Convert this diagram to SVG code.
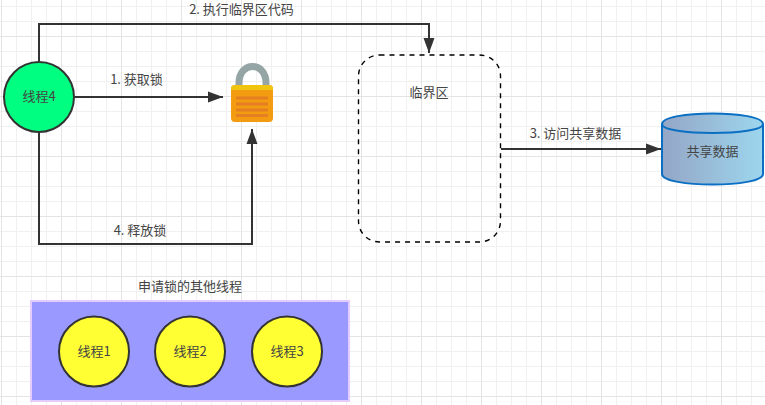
<svg xmlns="http://www.w3.org/2000/svg" width="765" height="405" viewBox="0 0 765 405">
<defs>
<pattern id="gridMinor" width="15" height="15" patternUnits="userSpaceOnUse" x="1" y="6"><path d="M0.5 0V15M0 0.5H15" fill="none" stroke="#f0f0f0" stroke-width="1"/></pattern>
<pattern id="gridMajor" width="60" height="60" patternUnits="userSpaceOnUse" x="1" y="36"><path d="M0.5 0V60M0 0.5H60" fill="none" stroke="#e4e4e4" stroke-width="1"/></pattern>
<linearGradient id="cyl" x1="0" y1="0" x2="1" y2="0"><stop offset="0" stop-color="#94a6c6"/><stop offset="1" stop-color="#9dd6ee"/></linearGradient>
<marker id="arrow" markerUnits="userSpaceOnUse" markerWidth="16" markerHeight="12" refX="15" refY="6" orient="auto"><path d="M0 0.5L15 6L0 11.5Z" fill="#333"/></marker>
</defs>
<style>
text{font-family:"Noto Sans CJK SC","Liberation Sans",sans-serif;font-size:13px;fill:#444;text-anchor:middle}
.conn{fill:none;stroke:#333;stroke-width:2;marker-end:url(#arrow)}
.thread{stroke:#333;stroke-width:2}
</style>
<rect width="765" height="405" fill="#fff"/>
<rect width="765" height="405" fill="url(#gridMinor)"/>
<rect width="765" height="405" fill="url(#gridMajor)"/>
<g id="connectors">
<path class="conn" d="M39 61V24H429V53"/>
<path class="conn" d="M75 97H223"/>
<path class="conn" d="M39 132V244H252V129"/>
<path class="conn" d="M501 149H661"/>
<text x="241.500" y="14">2. 执行临界区代码</text>
<text x="136.500" y="84">1. 获取锁</text>
<text x="140" y="235">4. 释放锁</text>
<text x="575.500" y="138">3. 访问共享数据</text>
</g>
<g id="thread4"><circle class="thread" cx="39" cy="97" r="35" fill="#00ff80"/><text x="39" y="101">线程4</text></g>
<g id="lock">
<path d="M239 88V83C239 61 266 61 266 83V88" fill="none" stroke="#95a5a6" stroke-width="7" stroke-linecap="round"/>
<rect x="231" y="85" width="42" height="37" rx="4" fill="#f39c12"/>
<path d="M231 89a4 4 0 0 1 4-4H269a4 4 0 0 1 4 4V90H231Z" fill="#f1c40f"/>
<path d="M236 98H268M236 104H268M236 110H268M236 115.500H268" stroke="#e67e22" stroke-width="3"/>
</g>
<g id="critical"><rect x="358.500" y="55" width="142" height="187" rx="21" fill="none" stroke="#000" stroke-width="1.400" stroke-dasharray="5 5"/><text x="429" y="97">临界区</text></g>
<g id="shared">
<path d="M662 124C662 110 763 110 763 124V174C763 188 662 188 662 174Z" fill="url(#cyl)" stroke="#0b6fc4" stroke-width="2"/>
<path d="M662 124C662 136 763 136 763 124" fill="none" stroke="#0b6fc4" stroke-width="2"/>
<text x="712.500" y="156">共享数据</text>
</g>
<g id="waiting">
<text x="190" y="291">申请锁的其他线程</text>
<rect x="31" y="301" width="318" height="100" fill="#9999ff" stroke="#e5ccff" stroke-width="2"/>
</g>
<g id="thread1"><circle class="thread" cx="94" cy="351.500" r="35" fill="#ffff33"/><text x="94" y="355.500">线程1</text></g>
<g id="thread2"><circle class="thread" cx="190" cy="351.500" r="35" fill="#ffff33"/><text x="190" y="355.500">线程2</text></g>
<g id="thread3"><circle class="thread" cx="287" cy="351.500" r="35" fill="#ffff33"/><text x="287" y="355.500">线程3</text></g>
</svg>
